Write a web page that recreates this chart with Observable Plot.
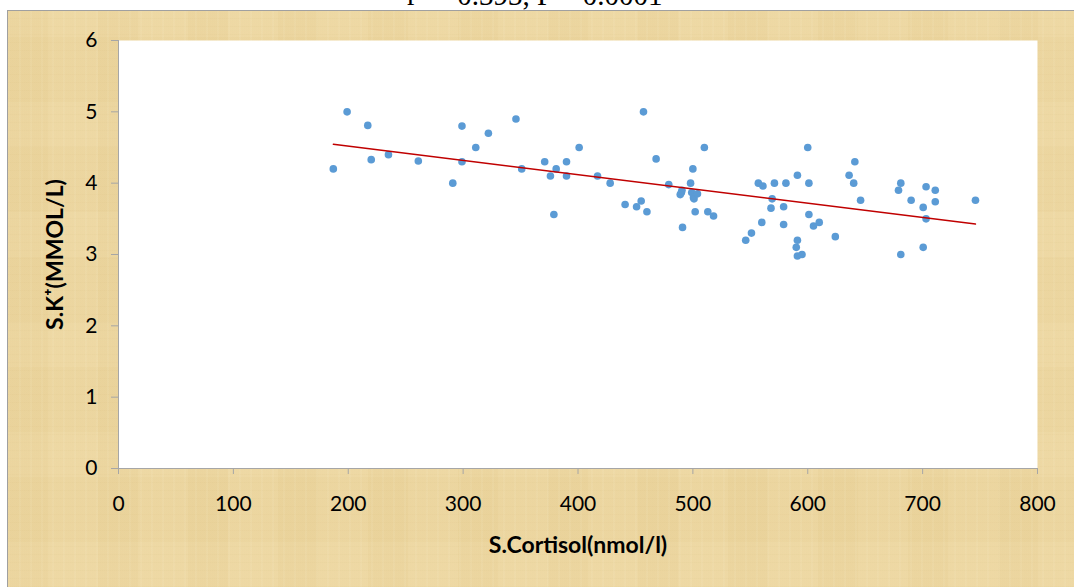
<!DOCTYPE html>
<html>
<head>
<meta charset="utf-8">
<script src="https://cdn.jsdelivr.net/npm/d3@7"></script>
<script src="https://cdn.jsdelivr.net/npm/@observablehq/plot@0.6"></script>
<style>
  html, body { margin: 0; padding: 0; background: #fff; }
  #wrap { position: relative; width: 1074px; height: 587px; overflow: hidden; background: #fff; }
  #title { position: absolute; left: 0; top: 0; width: 1074px; height: 10px; overflow: hidden; }
  #title span { position: absolute; left: 407px; top: -21px; font: 29px "Liberation Serif", "DejaVu Serif", serif; color: #000; white-space: nowrap; }
  #bg { position: absolute; left: 7px; top: 10px; width: 1067px; height: 577px;
        border-left: 1px solid #a0a0a0; border-top: 1px solid #a0a0a0; box-sizing: border-box;
        background-color: #ecd6a0;
        background-image:
          repeating-linear-gradient(90deg, rgba(255,248,225,0.07) 0px, rgba(255,248,225,0.07) 2px, rgba(0,0,0,0) 2px, rgba(0,0,0,0) 11px),
          repeating-linear-gradient(0deg, rgba(200,170,100,0.05) 0px, rgba(200,170,100,0.05) 1px, rgba(0,0,0,0) 1px, rgba(0,0,0,0) 8px),
          repeating-linear-gradient(90deg, rgba(215,185,115,0.06) 0px, rgba(215,185,115,0.06) 40px, rgba(250,235,195,0.06) 40px, rgba(250,235,195,0.06) 90px),
          repeating-linear-gradient(0deg, rgba(250,235,195,0.06) 0px, rgba(250,235,195,0.06) 45px, rgba(215,185,115,0.05) 45px, rgba(215,185,115,0.05) 110px);
  }
  #chart { position: absolute; left: 0; top: 0; }
</style>
</head>
<body>
<div id="wrap">
  <div id="title"><span>r = -0.393, P = 0.0001</span></div>
  <div id="bg"></div>
  <div id="chart"></div>
</div>
<script>
// S.Cortisol (nmol/l)
const cortisol = [
  187, 199, 217, 220, 235, 261, 291, 299, 299, 311, 322, 346, 351,
  371, 376, 381, 390, 390, 401, 379, 417, 428, 441, 451, 455, 460, 457, 468, 479,
  491, 498, 500, 510, 489, 490, 490.5, 499, 500.5, 501, 504, 502, 513, 518,
  600, 557, 561, 571, 581, 591, 601, 569, 568, 579, 560, 579, 601, 610, 605, 551, 546,
  591, 590, 591, 595, 624, 641, 636, 640, 646,
  681, 679, 690, 703, 711, 711, 700.5, 703, 700.5, 681, 746
];
// S.K+ (mmol/L)
const potassium = [
  4.20, 5.00, 4.81, 4.33, 4.40, 4.31, 4.00, 4.30, 4.80, 4.50, 4.70, 4.90, 4.20,
  4.30, 4.10, 4.20, 4.30, 4.10, 4.50, 3.56, 4.10, 4.00, 3.70, 3.67, 3.75, 3.60, 5.00, 4.34, 3.98,
  3.38, 4.00, 4.20, 4.50, 3.84, 3.87, 3.90, 3.87, 3.80, 3.78, 3.85, 3.60, 3.60, 3.54,
  4.50, 4.00, 3.96, 4.00, 4.00, 4.11, 4.00, 3.78, 3.65, 3.67, 3.45, 3.42, 3.56, 3.45, 3.40, 3.30, 3.20,
  3.20, 3.10, 2.98, 3.00, 3.25, 4.30, 4.11, 4.00, 3.76,
  4.00, 3.90, 3.76, 3.95, 3.90, 3.74, 3.66, 3.50, 3.10, 3.00, 3.76
];
const xTicks = [0, 100, 200, 300, 400, 500, 600, 700, 800];
const yTicks = [0, 1, 2, 3, 4, 5, 6];
const xLabel = "S.Cortisol(nmol/l)";
const yLabel = "S.K\u207A(MMOL/L)";

const data = cortisol.map((c, i) => ({c, k: potassium[i]}));

const chart = Plot.plot({
  width: 1074,
  height: 587,
  marginLeft: 118,
  marginRight: 37,
  marginTop: 40,
  marginBottom: 119,
  style: {background: "transparent", fontFamily: "Lato, 'Open Sans', sans-serif", fontSize: "21px", color: "#000"},
  x: {domain: [0, 800]},
  y: {domain: [0, 6]},
  marks: [
    Plot.frame({fill: "white", stroke: null}),
    Plot.axisX({ticks: xTicks, tickFormat: d => String(d), tickSize: 6, tickPadding: 22, stroke: "#a6a6a6", fontSize: 21,
                label: xLabel, labelAnchor: "center", labelOffset: 84, labelArrow: "none"}),
    Plot.axisY({ticks: yTicks, tickFormat: d => String(d), tickSize: 7, tickPadding: 14, stroke: "#a6a6a6", fontSize: 21,
                label: yLabel, labelAnchor: "center", labelOffset: 72, labelArrow: "none"}),
    Plot.ruleY([0], {stroke: "#a6a6a6"}),
    Plot.ruleX([0], {stroke: "#a6a6a6"}),
    Plot.dot(data, {x: "c", y: "k", r: 3.8, fill: "#5b9bd5", stroke: "none"}),
    Plot.linearRegressionY(data, {x: "c", y: "k", ci: 0, stroke: "#c00000", strokeWidth: 1.4})
  ]
});
document.getElementById("chart").appendChild(chart);
// axis labels: bold and a bit larger
chart.querySelectorAll('g[aria-label="x-axis label"] text, g[aria-label="y-axis label"] text').forEach(t => {
  t.setAttribute("font-weight", "bold");
  t.setAttribute("font-size", "23");
});
</script>
</body>
</html>
